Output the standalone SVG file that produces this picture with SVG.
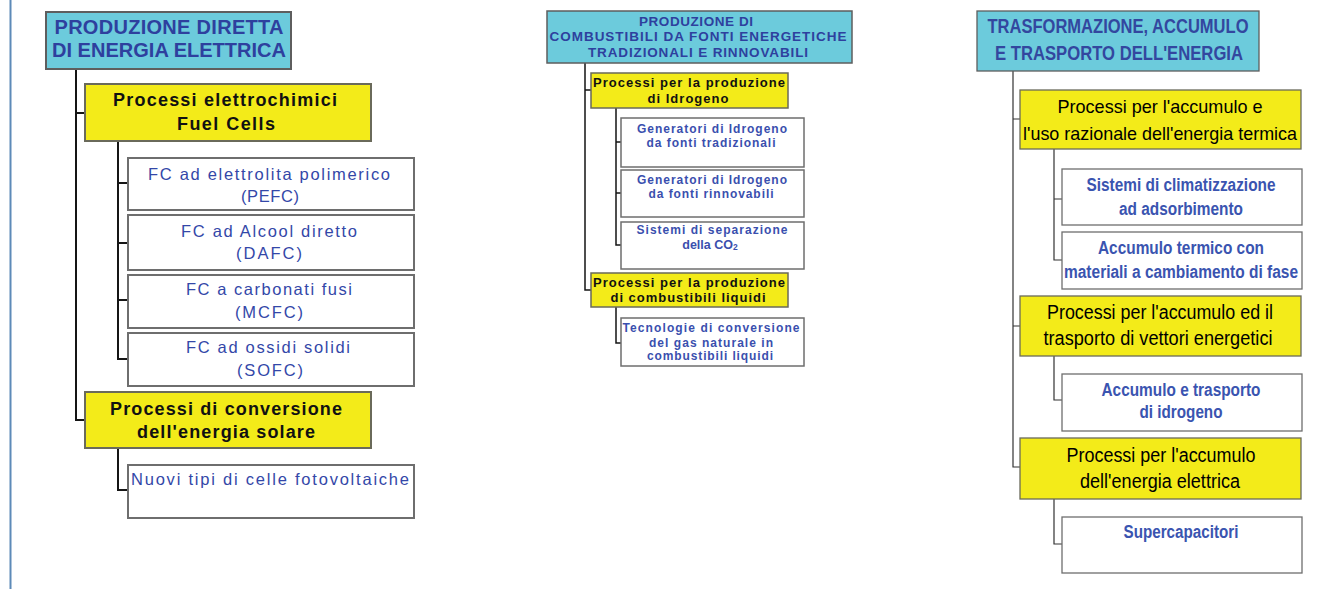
<svg xmlns="http://www.w3.org/2000/svg" width="1333" height="589" viewBox="0 0 1333 589">
<style>
.bg{fill:#ffffff}
.root{fill:#6ccbdc;stroke:#5e5e5e}
.yel{fill:#f3eb19;stroke:#6a6a5a}
.wht{fill:#ffffff;stroke:#6e6e6e}
.L rect{stroke-width:2}
.M rect{stroke-width:1.5}
.R rect{stroke-width:1.3}
text{text-anchor:middle;font-family:"Liberation Sans",Arial,sans-serif}
.tr{fill:#2e409e;font-weight:bold}
.ty{fill:#111111;font-weight:bold}
.tw{fill:#3347a8}
.twb{fill:#3a4fae;font-weight:bold}
.R .ty{font-weight:normal;fill:#000000}
.R .tr{fill:#33479f;font-weight:bold}
.R .tw{fill:#3a54b0;font-weight:bold}
.conL{fill:none;stroke:#151515;stroke-width:2}
.conM{fill:none;stroke:#151515;stroke-width:1.5}
.conR{fill:none;stroke:#333333;stroke-width:1.2}
</style>
<rect class="bg" x="0" y="0" width="1333" height="589"/>
<line x1="10.5" y1="0" x2="10.5" y2="589" stroke="#5d8ab8" stroke-width="2"/>

<g id="connectors">
  <path class="conL" d="M76,69 V420 H85 M76,113 H85"/>
  <path class="conL" d="M118,141 V359 H128 M118,183 H128 M118,243 H128 M118,300 H128"/>
  <path class="conL" d="M118,448 V490 H128"/>
  <path class="conM" d="M585,63 V290 H591 M585,90 H591"/>
  <path class="conM" d="M616,108 V245 H621 M616,142 H621 M616,193 H621"/>
  <path class="conM" d="M616,307 V343 H621"/>
  <path class="conR" d="M1013,71 V467 H1020 M1013,119 H1020 M1013,326 H1020"/>
  <path class="conR" d="M1054,149 V260 H1062 M1054,199 H1062"/>
  <path class="conR" d="M1054,356 V400 H1062"/>
  <path class="conR" d="M1054,499 V544 H1062"/>
</g>

<!-- LEFT COLUMN -->
<g class="L">
<g id="root-left">
  <rect class="root" x="46" y="12" width="245" height="57"/>
  <text class="tr" x="169" y="34" font-size="20" textLength="229" lengthAdjust="spacing">PRODUZIONE DIRETTA</text>
  <text class="tr" x="169" y="57" font-size="20" textLength="234" lengthAdjust="spacing">DI ENERGIA ELETTRICA</text>
</g>
<g id="fuel-cells">
  <rect class="yel" x="85" y="84" width="286" height="57"/>
  <text class="ty" x="225" y="106" font-size="18" textLength="224" lengthAdjust="spacing">Processi elettrochimici</text>
  <text class="ty" x="226" y="130" font-size="18" textLength="98" lengthAdjust="spacing">Fuel Cells</text>
</g>
<g id="pefc">
  <rect class="wht" x="128" y="158" width="286" height="52"/>
  <text class="tw" x="269" y="180" font-size="16.5" textLength="242" lengthAdjust="spacing">FC ad elettrolita polimerico</text>
  <text class="tw" x="270" y="202" font-size="16.5" textLength="58" lengthAdjust="spacing">(PEFC)</text>
</g>
<g id="dafc">
  <rect class="wht" x="128" y="215" width="286" height="55"/>
  <text class="tw" x="269" y="237" font-size="16.5" textLength="176" lengthAdjust="spacing">FC ad Alcool diretto</text>
  <text class="tw" x="269" y="259" font-size="16.5" textLength="66" lengthAdjust="spacing">(DAFC)</text>
</g>
<g id="mcfc">
  <rect class="wht" x="128" y="275" width="286" height="53"/>
  <text class="tw" x="269" y="295" font-size="16.5" textLength="166" lengthAdjust="spacing">FC a carbonati fusi</text>
  <text class="tw" x="269" y="318" font-size="16.5" textLength="68" lengthAdjust="spacing">(MCFC)</text>
</g>
<g id="sofc">
  <rect class="wht" x="128" y="333" width="286" height="53"/>
  <text class="tw" x="268" y="353" font-size="16.5" textLength="164" lengthAdjust="spacing">FC ad ossidi solidi</text>
  <text class="tw" x="270" y="376" font-size="16.5" textLength="66" lengthAdjust="spacing">(SOFC)</text>
</g>
<g id="solare">
  <rect class="yel" x="85" y="392" width="286" height="56"/>
  <text class="ty" x="226" y="415" font-size="18" textLength="232" lengthAdjust="spacing">Processi di conversione</text>
  <text class="ty" x="226" y="438" font-size="18" textLength="178" lengthAdjust="spacing">dell'energia solare</text>
</g>
<g id="fotovoltaiche">
  <rect class="wht" x="128" y="465" width="286" height="53"/>
  <text class="tw" x="270" y="485" font-size="16.5" textLength="278" lengthAdjust="spacing">Nuovi tipi di celle fotovoltaiche</text>
</g>
</g>

<!-- MIDDLE COLUMN -->
<g class="M">
<g id="root-middle">
  <rect class="root" x="547" y="11" width="305" height="52"/>
  <text class="tr" x="696" y="26" font-size="13.5" textLength="114" lengthAdjust="spacing">PRODUZIONE DI</text>
  <text class="tr" x="698" y="41" font-size="13.5" textLength="297" lengthAdjust="spacing">COMBUSTIBILI DA FONTI ENERGETICHE</text>
  <text class="tr" x="698" y="57" font-size="13.5" textLength="220" lengthAdjust="spacing">TRADIZIONALI E RINNOVABILI</text>
</g>
<g id="idrogeno">
  <rect class="yel" x="591" y="73" width="197" height="35"/>
  <text class="ty" x="689" y="87" font-size="13" textLength="192" lengthAdjust="spacing">Processi per la produzione</text>
  <text class="ty" x="688" y="103" font-size="13" textLength="81" lengthAdjust="spacing">di Idrogeno</text>
</g>
<g id="gen-tradizionali">
  <rect class="wht" x="621" y="118" width="183" height="49"/>
  <text class="twb" x="712" y="133" font-size="12" textLength="150" lengthAdjust="spacing">Generatori di Idrogeno</text>
  <text class="twb" x="711" y="147" font-size="12" textLength="129" lengthAdjust="spacing">da fonti tradizionali</text>
</g>
<g id="gen-rinnovabili">
  <rect class="wht" x="621" y="170" width="183" height="47"/>
  <text class="twb" x="712" y="184" font-size="12" textLength="150" lengthAdjust="spacing">Generatori di Idrogeno</text>
  <text class="twb" x="711" y="198" font-size="12" textLength="125" lengthAdjust="spacing">da fonti rinnovabili</text>
</g>
<g id="separazione-co2">
  <rect class="wht" x="621" y="222" width="183" height="47"/>
  <text class="twb" x="712" y="234" font-size="12" textLength="151" lengthAdjust="spacing">Sistemi di separazione</text>
  <text class="twb" x="710" y="249" font-size="12.5">della CO<tspan font-size="8.5" dy="1">2</tspan></text>
</g>
<g id="combustibili-liquidi">
  <rect class="yel" x="591" y="273" width="197" height="34"/>
  <text class="ty" x="689" y="287" font-size="13" textLength="192" lengthAdjust="spacing">Processi per la produzione</text>
  <text class="ty" x="688" y="302" font-size="13" textLength="155" lengthAdjust="spacing">di combustibili liquidi</text>
</g>
<g id="gas-naturale">
  <rect class="wht" x="621" y="318" width="183" height="48"/>
  <text class="twb" x="711" y="332" font-size="12" textLength="177" lengthAdjust="spacing">Tecnologie di conversione</text>
  <text class="twb" x="711" y="347" font-size="12" textLength="124" lengthAdjust="spacing">del gas naturale in</text>
  <text class="twb" x="710" y="360" font-size="12" textLength="126" lengthAdjust="spacing">combustibili liquidi</text>
</g>
</g>

<!-- RIGHT COLUMN -->
<g class="R">
<g id="root-right">
  <rect class="root" x="977" y="11" width="282" height="60"/>
  <text class="tr" x="1118" y="33" font-size="20" textLength="261" lengthAdjust="spacingAndGlyphs">TRASFORMAZIONE, ACCUMULO</text>
  <text class="tr" x="1119" y="60" font-size="20" textLength="248" lengthAdjust="spacingAndGlyphs">E TRASPORTO DELL'ENERGIA</text>
</g>
<g id="energia-termica">
  <rect class="yel" x="1020" y="90" width="281" height="59"/>
  <text class="ty" x="1160" y="113" font-size="18.5" textLength="205" lengthAdjust="spacingAndGlyphs">Processi per l'accumulo e</text>
  <text class="ty" x="1160" y="140" font-size="18.5" textLength="274" lengthAdjust="spacingAndGlyphs">l'uso razionale dell'energia termica</text>
</g>
<g id="climatizzazione">
  <rect class="wht" x="1062" y="169" width="240" height="56"/>
  <text class="tw" x="1181" y="191" font-size="17.5" textLength="189" lengthAdjust="spacingAndGlyphs">Sistemi di climatizzazione</text>
  <text class="tw" x="1181" y="215" font-size="17.5" textLength="124" lengthAdjust="spacingAndGlyphs">ad adsorbimento</text>
</g>
<g id="accumulo-termico">
  <rect class="wht" x="1062" y="232" width="240" height="57"/>
  <text class="tw" x="1181" y="254" font-size="17.5" textLength="166" lengthAdjust="spacingAndGlyphs">Accumulo termico con</text>
  <text class="tw" x="1181" y="278" font-size="17.5" textLength="234" lengthAdjust="spacingAndGlyphs">materiali a cambiamento di fase</text>
</g>
<g id="vettori-energetici">
  <rect class="yel" x="1020" y="296" width="281" height="60"/>
  <text class="ty" x="1160" y="319" font-size="19.5" textLength="226" lengthAdjust="spacingAndGlyphs">Processi per l'accumulo ed il</text>
  <text class="ty" x="1158" y="345" font-size="19.5" textLength="229" lengthAdjust="spacingAndGlyphs">trasporto di vettori energetici</text>
</g>
<g id="trasporto-idrogeno">
  <rect class="wht" x="1062" y="374" width="240" height="57"/>
  <text class="tw" x="1181" y="396" font-size="17.5" textLength="159" lengthAdjust="spacingAndGlyphs">Accumulo e trasporto</text>
  <text class="tw" x="1181" y="418" font-size="17.5" textLength="83" lengthAdjust="spacingAndGlyphs">di idrogeno</text>
</g>
<g id="energia-elettrica">
  <rect class="yel" x="1020" y="438" width="281" height="61"/>
  <text class="ty" x="1161" y="462" font-size="20" textLength="189" lengthAdjust="spacingAndGlyphs">Processi per l'accumulo</text>
  <text class="ty" x="1160" y="488" font-size="20" textLength="160" lengthAdjust="spacingAndGlyphs">dell'energia elettrica</text>
</g>
<g id="supercapacitori">
  <rect class="wht" x="1062" y="517" width="240" height="56"/>
  <text class="tw" x="1181" y="538" font-size="17.5" textLength="115" lengthAdjust="spacingAndGlyphs">Supercapacitori</text>
</g>
</g>
</svg>
